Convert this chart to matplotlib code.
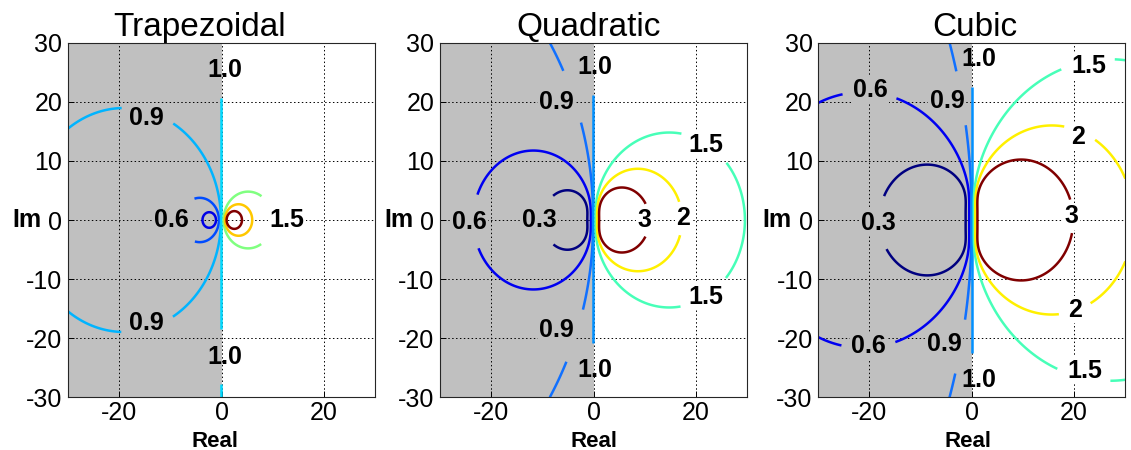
import numpy as np
import matplotlib
matplotlib.use('Agg')
import matplotlib.pyplot as plt

plt.rcParams['font.family'] = ['Liberation Sans', 'DejaVu Sans']
plt.rcParams['axes.unicode_minus'] = False

# ---------------- data ----------------
titles = ['Trapezoidal', 'Quadratic', 'Cubic']
# stability-function polynomials P(z), amplification R(z) = P(z) / P(-z)
trap_coeffs = [1, 1 / 2]
quad_coeffs = [1, 1 / 2, 1 / 12]
cubic_coeffs = [1, 1 / 2, 11 / 108, 1 / 108]

levels = [0.3, 0.6, 0.9, 1.0, 1.5, 2, 3]
level_text = ['0.3', '0.6', '0.9', '1.0', '1.5', '2', '3']

x_limits = [-30, 30]
y_limits = [-30, 30]
x_ticks = [-20, 0, 20]
y_ticks = [-30, -20, -10, 0, 10, 20, 30]

trap_label_xy = [(0.7, 25.3), (0.7, -23.1), (-14.6, 17.2), (-14.6, -17.4),
                 (-9.7, 0.0), (12.8, 0.0)]
trap_label_lv = [1.0, 1.0, 0.9, 0.9, 0.6, 1.5]

quad_label_xy = [(0.3, 25.9), (0.3, -25.4), (-7.2, 20.0), (-7.2, -18.6),
                 (-24.3, -0.3), (-10.6, 0.0), (10.0, 0.0), (17.6, 0.3),
                 (22.0, 12.7), (22.0, -13.0)]
quad_label_lv = [1.0, 1.0, 0.9, 0.9, 0.6, 0.3, 3, 2, 1.5, 1.5]

cubic_label_xy = [(1.3, 27.2), (1.3, -27.1), (-19.9, 22.0), (-20.2, -21.4),
                  (-4.8, 20.2), (-5.4, -20.9), (-18.2, -0.5), (19.5, 0.6),
                  (20.8, 14.1), (20.2, -15.2), (22.8, 26.0), (22.1, -25.5)]
cubic_label_lv = [1.0, 1.0, 0.6, 0.6, 0.9, 0.9, 0.3, 3, 2, 2, 1.5, 1.5]

# ---------------- styles ----------------
trap_colors = ['#0000E6', '#004CFF', '#00B4FF', '#00D8FF', '#80FF80', '#FFC800', '#800000']
jet_colors = ['#000080', '#0000F1', '#1070FF', '#0090FF', '#47FFB8', '#FFF000', '#800000']
panel_colors = [trap_colors, jet_colors, jet_colors]
panel_coeffs = [trap_coeffs, quad_coeffs, cubic_coeffs]
panel_label_xy = [trap_label_xy, quad_label_xy, cubic_label_xy]
panel_label_lv = [trap_label_lv, quad_label_lv, cubic_label_lv]

W, H = 1131, 450
ax_lefts = [68, 440, 818.3]
ax_width = 307
ax_top, ax_bottom = 42.7, 397.3
title_x = [0.427, 0.483, 0.51]
xlabel_x = [0.479, 0.5, 0.487]
gray = '#C0C0C0'


def amplification(coeffs, Z):
    num = sum(c * Z ** k for k, c in enumerate(coeffs))
    den = sum(c * (-Z) ** k for k, c in enumerate(coeffs))
    return np.abs(num / den)


def nearest_on_level(ax, cs, lv, pos):
    segs = cs.allsegs[levels.index(lv)]
    pts = np.concatenate([s for s in segs if len(s)])
    scr = ax.transData.transform(pts)
    p = ax.transData.transform([pos])[0]
    k = np.argmin(((scr - p) ** 2).sum(axis=1))
    return tuple(pts[k])


xs = np.linspace(x_limits[0], x_limits[1], 800)
ys = np.linspace(y_limits[0], y_limits[1], 800)
X, Y = np.meshgrid(xs, ys)
Z = X + 1j * Y

fig = plt.figure(figsize=(W / 100, H / 100), dpi=100)
fmt = dict(zip(levels, level_text))

for i in range(3):
    ax = fig.add_axes([ax_lefts[i] / W, 1 - ax_bottom / H, ax_width / W,
                       (ax_bottom - ax_top) / H])
    F = amplification(panel_coeffs[i], Z)
    ax.contourf(X, Y, F, levels=[0, 1.0], colors=[gray], zorder=0)
    cs = ax.contour(X, Y, F, levels=levels, colors=panel_colors[i],
                    linewidths=1.8, zorder=2)
    ax.set_xlim(x_limits)
    ax.set_ylim(y_limits)
    snap = [nearest_on_level(ax, cs, lv, pos)
            for pos, lv in zip(panel_label_xy[i], panel_label_lv[i])]
    with plt.rc_context({'font.weight': 'bold'}):
        texts = cs.clabel(manual=snap, inline=True, inline_spacing=10,
                          fmt=fmt, fontsize=18, colors='k')
    for t, pos in zip(texts, panel_label_xy[i]):
        t.set_position(pos)
        t.set_rotation(0)
        t.set_fontweight('bold')
        t.set_zorder(5)
        if pos[0] < -2:
            t.set_bbox(dict(facecolor=gray, edgecolor='none', pad=1))
        elif pos[0] > 2:
            t.set_bbox(dict(facecolor='white', edgecolor='none', pad=1))

    ax.set_xticks(x_ticks)
    ax.set_yticks(y_ticks)
    ax.set_axisbelow(True)
    ax.grid(True, color='k', linestyle=(0, (1.5, 2.5)), linewidth=0.7)
    ax.tick_params(direction='in', length=4, width=0.7, labelsize=18,
                   colors='k')
    ax.tick_params(axis='x', pad=2.5)
    ax.tick_params(axis='y', pad=4)
    for s in ax.spines.values():
        s.set_linewidth(0.8)
        s.set_color('#262626')
        s.set_zorder(6)
    ax.set_title(titles[i], fontsize=24, pad=3, x=title_x[i])
    ax.set_xlabel('Real', fontsize=16, fontweight='bold')
    ax.xaxis.set_label_coords(xlabel_x[i], -0.140)
    ax.xaxis.label.set_va('baseline')
    ax.set_ylabel('Im', fontsize=18, fontweight='bold', rotation=0,
                  ha='center', va='center')
    ax.yaxis.set_label_coords(-0.135, 0.5)

fig.savefig('out.png', dpi=100)
